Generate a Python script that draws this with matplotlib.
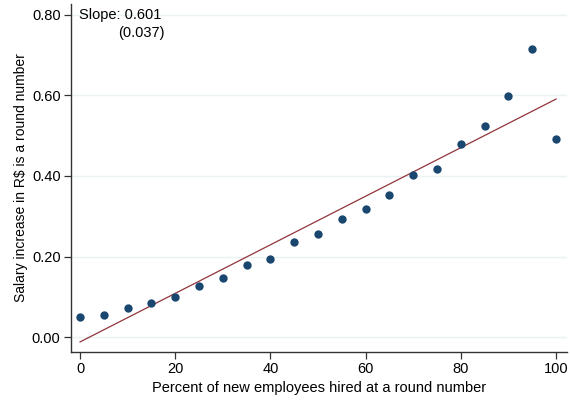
import matplotlib.pyplot as plt
import numpy as np

plt.rcParams['font.family'] = ['Liberation Sans', 'DejaVu Sans']

# data
pct_round = [0, 5, 10, 15, 20, 25, 30, 35, 40, 45, 50,
             55, 60, 65, 70, 75, 80, 85, 90, 95, 100]
salary_round = [0.050, 0.054, 0.072, 0.084, 0.099, 0.128, 0.147, 0.178, 0.194, 0.235, 0.256,
                0.292, 0.319, 0.354, 0.402, 0.417, 0.479, 0.525, 0.599, 0.715, 0.492]
fit_intercept = -0.012
fit_slope = 0.00603
slope_txt = "Slope: 0.601"
se_txt = "(0.037)"

fig = plt.figure(figsize=(5.7, 4.01), dpi=100)
ax = fig.add_axes([71 / 570, 1 - 352 / 401, 496 / 570, 348 / 401])

ax.scatter(pct_round, salary_round, s=36, color='#1a476f', zorder=3, linewidths=0)
xs = np.array([0, 100])
ax.plot(xs, fit_intercept + fit_slope * xs, color='#90353b', linewidth=0.9, zorder=2)

ax.set_xlim(-1.9, 102.3)
ax.set_ylim(-0.037, 0.827)
ax.set_xticks([0, 20, 40, 60, 80, 100])
ax.set_yticks([0, 0.2, 0.4, 0.6, 0.8])
ax.set_yticklabels(["0.00", "0.20", "0.40", "0.60", "0.80"])
ax.yaxis.grid(True, color='#eaf2f3', linewidth=1)
ax.set_axisbelow(True)

for s in ['top', 'right']:
    ax.spines[s].set_visible(False)
for s in ['left', 'bottom']:
    ax.spines[s].set_color('#333333')
    ax.spines[s].set_linewidth(1.0)
ax.tick_params(direction='out', length=5, width=0.9, color='#333333', labelsize=10.5, pad=2.5)

ax.set_xlabel("Percent of new employees hired at a round number", fontsize=10.5, labelpad=3)
ax.set_ylabel("Salary increase in R\\$ is a round number", fontsize=10, labelpad=3)

ax.text(0.016, 0.988, slope_txt, transform=ax.transAxes, fontsize=10.5, va='top', ha='left')
ax.text(0.095, 0.937, se_txt, transform=ax.transAxes, fontsize=10.5, va='top', ha='left')

fig.savefig("out.png", dpi=100)
